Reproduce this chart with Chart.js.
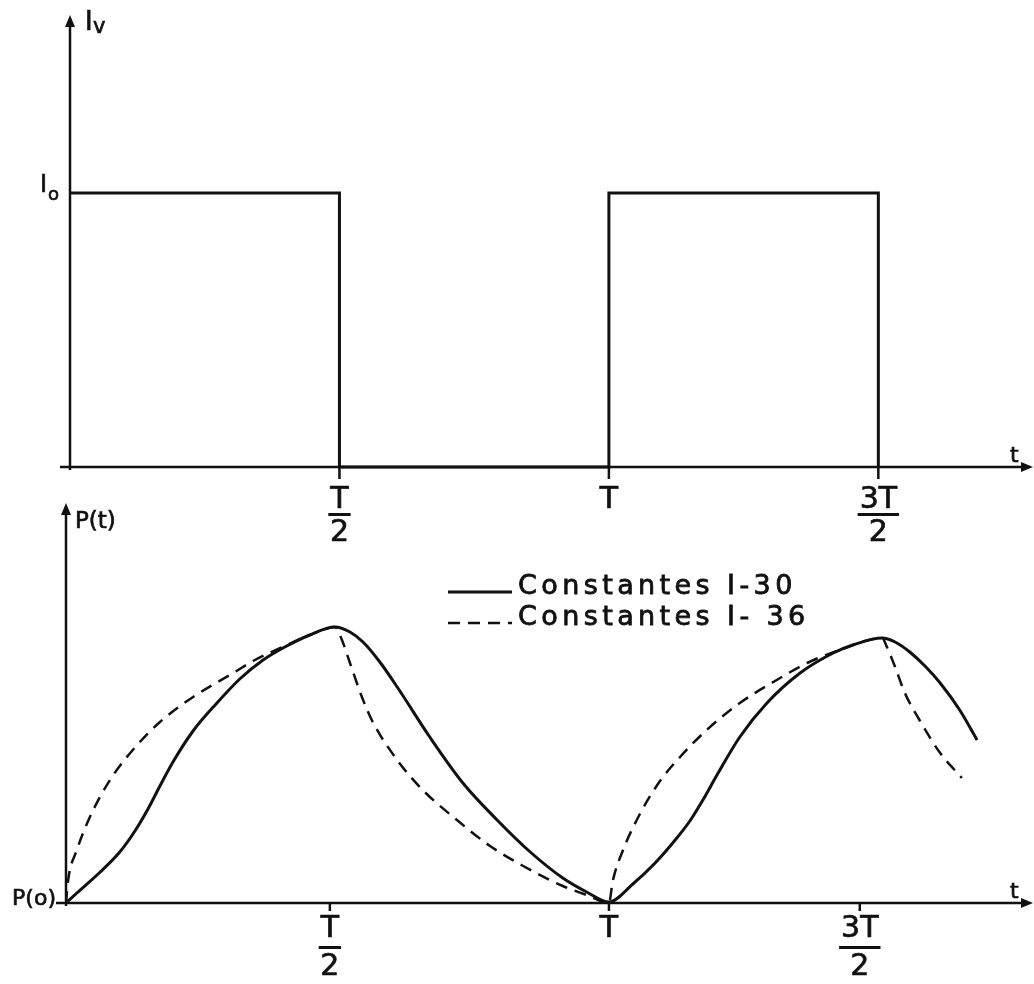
<!DOCTYPE html>
<html>
<head>
<meta charset="utf-8">
<script src="https://cdn.jsdelivr.net/npm/chart.js@4/dist/chart.umd.min.js"></script>
<style>
  html, body { margin: 0; padding: 0; background: #fff; }
  #wrap { position: relative; width: 1034px; height: 984px; overflow: hidden; }
  canvas { position: absolute; left: 0; }
  #top { top: 0; }
  #bottom { top: 480px; }
</style>
</head>
<body>
<div id="wrap">
  <canvas id="top" width="1034" height="560"></canvas>
  <canvas id="bottom" width="1034" height="504"></canvas>
</div>
<script>
// time in units of T
const topT  = [0, 0.5, 0.5, 1, 1, 1.5, 1.5];
const topIv = [1, 1, 0, 0, 1, 1, 0];          // I0 = 1
const topTicks = [0.5, 1, 1.5];
const bottomTicks = [0.486, 1, 1.462];        // hand drawn ticks sit a bit left
const tickLabels = [['T', '2'], ['T'], ['3T', '2']];

// Constantes I-30 (solid)
const solidT = [0, 0.020, 0.063, 0.099, 0.127, 0.151, 0.173, 0.197, 0.234, 0.278, 0.320, 0.363, 0.403, 0.449, 0.495,
                0.523, 0.547, 0.578, 0.610, 0.670, 0.731, 0.794, 0.855, 0.915, 0.959, 1.0,
                1.044, 1.085, 1.122, 1.149, 1.173, 1.199, 1.241, 1.291, 1.352, 1.413, 1.449, 1.503,
                1.527, 1.554, 1.582, 1.610, 1.646, 1.678];
const solidP = [0, 10, 31, 51, 72, 94, 117, 141, 172, 200, 224, 243, 256, 268, 276,
                271, 261, 241, 216, 166, 120, 83, 51, 25, 11, 1,
                19, 40, 63, 82, 103, 128, 166, 200, 230, 250, 258, 265,
                261, 251, 237, 220, 193, 163];

// Constantes I-36 (dashed)
const dashT = [0, 0.004, 0.020, 0.044, 0.081, 0.123, 0.173, 0.234, 0.308, 0.348, 0.403, 0.449, 0.495,
               0.506, 0.523, 0.545, 0.565, 0.610, 0.657, 0.720, 0.781, 0.842, 0.915, 0.959, 1.0,
               1.007, 1.026, 1.057, 1.094, 1.131, 1.180, 1.241, 1.309, 1.365, 1.425, 1.503,
               1.512, 1.527, 1.545, 1.573, 1.610, 1.650];
const dashP = [0, 23, 53, 86, 123, 153, 181, 206, 230, 243, 257, 268, 276,
               266, 240, 206, 181, 143, 113, 83, 57, 37, 17, 8, 0,
               22, 53, 89, 122, 146, 173, 200, 223, 240, 253, 265,
               256, 236, 210, 182, 150, 125];

const seriesNames = ['Constantes I-30', 'Constantes I- 36'];

const pts = (xs, ys) => xs.map((x, i) => ({ x: x, y: ys[i] }));
const INK = '#111';
const FONT = '"DejaVu Sans", sans-serif';

function arrow(ctx, x, y, dir) {
  ctx.beginPath();
  if (dir === 'up') {
    ctx.moveTo(x, y); ctx.lineTo(x - 5, y + 12); ctx.lineTo(x + 5, y + 12);
  } else {
    ctx.moveTo(x, y); ctx.lineTo(x - 12, y - 5); ctx.lineTo(x - 12, y + 5);
  }
  ctx.closePath();
  ctx.fill();
}

// text a bit heavier, like the typed labels of the original
function heavy(ctx, str, x, y) {
  ctx.fillText(str, x, y);
  ctx.strokeText(str, x, y);
}

function spaced(ctx, str, x, y, sp) {
  for (const ch of str) {
    heavy(ctx, ch, x, y);
    x += ctx.measureText(ch).width + sp;
  }
}

// axes with arrows, fraction tick labels and axis names
const axesPlugin = {
  id: 'axesPlugin',
  beforeDatasetsDraw(chart, args, o) {
    const ctx = chart.ctx, a = chart.chartArea;
    const xs = chart.scales.x, ys = chart.scales.y;
    const x0 = xs.getPixelForValue(0), yb = ys.getPixelForValue(0);
    ctx.save();
    ctx.strokeStyle = INK; ctx.fillStyle = INK; ctx.lineWidth = 2.5;
    ctx.beginPath();
    ctx.moveTo(x0, yb + 3); ctx.lineTo(x0, a.top + 8);
    ctx.moveTo(x0 - 10, yb); ctx.lineTo(a.right - 8, yb);
    o.ticks.forEach(v => {
      const px = xs.getPixelForValue(v);
      ctx.moveTo(px, yb); ctx.lineTo(px, yb + o.tickLen);
    });
    ctx.stroke();
    arrow(ctx, x0, a.top, 'up');
    arrow(ctx, a.right, yb, 'right');

    ctx.lineWidth = 0.7;
    // fraction labels
    ctx.textAlign = 'center'; ctx.textBaseline = 'alphabetic';
    ctx.font = '30px ' + FONT;
    o.ticks.forEach((v, i) => {
      const px = xs.getPixelForValue(v);
      const lab = tickLabels[i];
      heavy(ctx, lab[0], px, yb + o.numY);
      if (lab.length > 1) {
        const w = ctx.measureText(lab[0]).width + 4;
        ctx.fillRect(px - w / 2, yb + o.barY, w, 3);
        heavy(ctx, lab[1], px, yb + o.denY);
      }
    });

    // t label
    ctx.textAlign = 'left';
    ctx.font = '22px ' + FONT;
    heavy(ctx, 't', a.right - 23, yb - 5);
    o.names(ctx, x0, yb, a, ys);
    ctx.restore();
  }
};

// legend drawn inside the lower plot
const legendPlugin = {
  id: 'legendPlugin',
  afterDatasetsDraw(chart, args, o) {
    if (!o.show) return;
    const ctx = chart.ctx;
    ctx.save();
    ctx.strokeStyle = INK; ctx.fillStyle = INK;
    ctx.font = '27px ' + FONT;
    ctx.textBaseline = 'alphabetic'; ctx.textAlign = 'left';
    chart.data.datasets.forEach((ds, i) => {
      const y = o.y + i * o.rowGap;
      ctx.lineWidth = ds.borderWidth;
      ctx.setLineDash(ds.borderDash || []);
      ctx.beginPath();
      ctx.moveTo(o.x, y); ctx.lineTo(o.x + o.lineLen, y);
      ctx.stroke();
      ctx.setLineDash([]);
      ctx.lineWidth = 0.8;
      spaced(ctx, ds.label, o.x + o.lineLen + 6, y + 2, 4.4);
    });
    ctx.restore();
  }
};

const baseOptions = (pad, xMax, yMax) => ({
  responsive: false,
  animation: false,
  events: [],
  layout: { padding: pad },
  scales: {
    x: { type: 'linear', min: 0, max: xMax, display: false },
    y: { type: 'linear', min: 0, max: yMax, display: false }
  },
  elements: { point: { radius: 0 } },
  plugins: { legend: { display: false }, tooltip: { enabled: false } }
});

// upper plot: Iv square wave
const topOpts = baseOptions({ left: 70, right: 1, top: 15, bottom: 93 }, 1.787, 1.65);
topOpts.plugins.axesPlugin = {
  ticks: topTicks, tickLen: 12, numY: 41, barY: 46, denY: 74,
  names(ctx, x0, yb, a, ys) {
    const yI = ys.getPixelForValue(1);
    ctx.font = '26px ' + FONT;
    heavy(ctx, 'I', x0 + 15, a.top + 15);
    ctx.font = '21px ' + FONT;
    heavy(ctx, 'v', x0 + 23, a.top + 18);
    ctx.textAlign = 'right';
    ctx.font = '18px ' + FONT;
    heavy(ctx, 'o', x0 - 11, yI + 7);
    ctx.font = '24px ' + FONT;
    heavy(ctx, 'I', x0 - 23, yI - 1);
  }
};
topOpts.plugins.legendPlugin = { show: false };

new Chart(document.getElementById('top'), {
  type: 'line',
  data: {
    datasets: [{
      label: 'Iv',
      data: pts(topT, topIv),
      borderColor: INK,
      borderWidth: 3,
      tension: 0,
      borderJoinStyle: 'miter',
      clip: false
    }]
  },
  options: topOpts,
  plugins: [axesPlugin, legendPlugin]
});

// lower plot: P(t)
const botOpts = baseOptions({ left: 66, right: 1, top: 23, bottom: 81 }, 1.781, 400);
botOpts.plugins.axesPlugin = {
  ticks: bottomTicks, tickLen: 8, numY: 34, barY: 43, denY: 72,
  names(ctx, x0, yb, a) {
    ctx.font = '23px ' + FONT;
    heavy(ctx, 'P(t)', x0 + 9, a.top + 25);
    ctx.textAlign = 'right';
    ctx.font = '22px ' + FONT;
    heavy(ctx, 'P(o)', x0 - 10, yb + 2);
  }
};
botOpts.plugins.legendPlugin = { show: true, x: 448, y: 112, rowGap: 31, lineLen: 64 };

new Chart(document.getElementById('bottom'), {
  type: 'line',
  data: {
    datasets: [
      {
        label: seriesNames[0],
        data: pts(solidT, solidP),
        borderColor: INK,
        borderWidth: 3,
        cubicInterpolationMode: 'monotone',
        clip: false
      },
      {
        label: seriesNames[1],
        data: pts(dashT, dashP),
        borderColor: INK,
        borderWidth: 2.5,
        borderDash: [12, 8],
        cubicInterpolationMode: 'monotone',
        clip: false
      }
    ]
  },
  options: botOpts,
  plugins: [axesPlugin, legendPlugin]
});
</script>
</body>
</html>
